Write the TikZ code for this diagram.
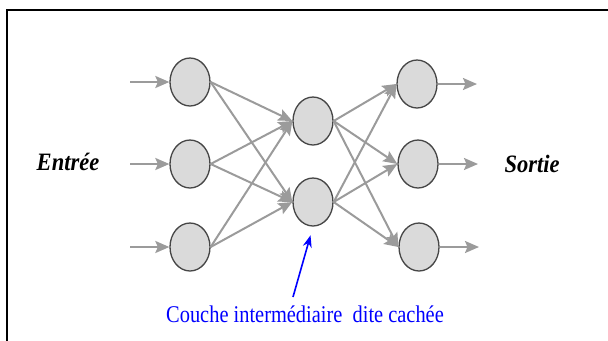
\documentclass[tikz,border=0pt]{standalone}
\usepackage{fontspec}
\setmainfont{Liberation Serif}
\usetikzlibrary{arrows.meta,shapes.geometric}
\definecolor{linkgray}{RGB}{155,155,155}
\definecolor{nodefill}{RGB}{218,218,218}
\definecolor{nodeedge}{RGB}{70,70,70}
\tikzset{
  neuron/.style={ellipse, draw=nodeedge, line width=1.3bp, fill=nodefill,
    minimum width=40bp, minimum height=48bp, inner sep=0pt},
  link/.style={draw=linkgray, line width=2bp,
    -{Stealth[length=14bp,width=12bp,inset=2.5bp]}},
  sidelabel/.style={font=\fontsize{25bp}{28bp}\selectfont\bfseries\itshape, inner sep=0pt, anchor=base},
  note/.style={font=\fontsize{24bp}{27bp}\selectfont, text=blue, inner sep=0pt, anchor=base},
  pointer/.style={draw=blue, line width=1.6bp, -{Stealth[length=12bp,width=9bp]}}
}
\begin{document}
\begin{tikzpicture}[x=1bp,y=-1bp]
  \useasboundingbox (0,0) rectangle (608,340);
  % frame
  \draw[line width=2.4bp, line cap=rect] (7,340) -- (7,10) -- (608,10);

  % layers
  \node[neuron] (i1) at (190,82) {};
  \node[neuron] (i2) at (190,164) {};
  \node[neuron] (i3) at (190,247) {};
  \node[neuron] (h1) at (313,121) {};
  \node[neuron] (h2) at (313,202) {};
  \node[neuron] (o1) at (417,84) {};
  \node[neuron] (o2) at (418,164) {};
  \node[neuron] (o3) at (419,247) {};

  % free ends of the input and output arrows
  \coordinate (x1) at (130,82);
  \coordinate (x2) at (130,164);
  \coordinate (x3) at (130,247);
  \coordinate (y1) at (477,84);
  \coordinate (y2) at (478,164);
  \coordinate (y3) at (479,247);

  \foreach \k in {1,2,3} {
    \draw[link] (x\k) -- (i\k.west);
    \draw[link] (o\k.east) -- (y\k);
  }
  \foreach \a in {1,2,3} \foreach \b in {1,2}
    \draw[link] (i\a.east) -- (h\b.west);
  \foreach \a in {1,2} \foreach \b in {1,2,3}
    \draw[link] (h\a.east) -- (o\b.west);

  % labels
  \node[sidelabel] (inlbl) at (68,170) {\scalebox{0.9}[1]{Entrée}};
  \node[sidelabel] (outlbl) at (532,172) {\scalebox{0.9}[1]{Sortie}};
  \node[note] (hidlbl) at (305,322) {\scalebox{0.85}[1]{Couche intermédiaire\ \ dite cachée}};
  \coordinate (ptail) at (293,297);
  \draw[pointer, shorten >=9bp] (ptail) -- (h2.south);
\end{tikzpicture}
\end{document}
